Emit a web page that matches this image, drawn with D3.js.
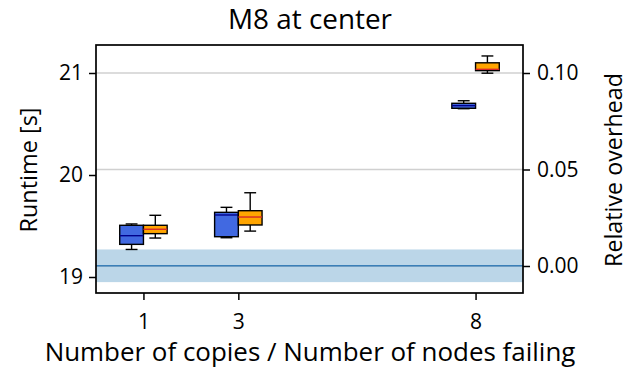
<!DOCTYPE html>
<html><head><meta charset="utf-8">
<script src="https://cdn.jsdelivr.net/npm/d3@7"></script>
<style>body{margin:0;background:#fff}svg{display:block}text{font-family:"Open Sans",sans-serif;fill:#000}</style>
</head><body><svg id="c" width="637" height="372"></svg>
<script>
const categories = [1, 3, 8];
const seriesNames = ["copies", "failing"];
// [min, q1, median, q3, max] per category
const copiesStats = [
  [19.27, 19.32, 19.405, 19.507, 19.52],
  [19.385, 19.395, 19.608, 19.634, 19.683],
  [20.65, 20.654, 20.68, 20.703, 20.728]
];
const failingStats = [
  [19.382, 19.425, 19.468, 19.507, 19.605],
  [19.45, 19.51, 19.588, 19.65, 19.826],
  [20.998, 21.023, 21.036, 21.10, 21.167]
];
const baseline = 19.11;
const baselineSpread = 0.16;
const leftTicks = [19, 20, 21];
const rightTicks = [0.00, 0.05, 0.10];
const xTicks = [1, 3, 8];

const svg = d3.select("#c");
const L = 96, R = 523, T = 45, B = 293;
const x = d3.scaleLinear().domain([0, 9]).range([L, R]);
const y = d3.scaleLinear().domain([19, 21]).range([277, 73]);
const y2 = d3.scaleLinear().domain([0, 0.10]).range([266, 73]);

function fit(sel, target) {
  const base = 20;
  sel.style("font-size", base + "px");
  const w = sel.node().getComputedTextLength();
  sel.style("font-size", (base * target / w).toFixed(2) + "px");
  return sel;
}

// gridlines (from right axis)
svg.append("g").selectAll("line").data(rightTicks).join("line")
  .attr("x1", L).attr("x2", R).attr("y1", d => y2(d)).attr("y2", d => y2(d))
  .attr("stroke", "#d0d0d0").attr("stroke-width", 1.5);

// baseline band
svg.append("rect").attr("x", L).attr("width", R - L)
  .attr("y", y(baseline + baselineSpread))
  .attr("height", y(baseline - baselineSpread) - y(baseline + baselineSpread))
  .attr("fill", "#1f77b4").attr("fill-opacity", 0.3);
svg.append("line").attr("x1", L).attr("x2", R)
  .attr("y1", y(baseline)).attr("y2", y(baseline))
  .attr("stroke", "#3a7fb8").attr("stroke-width", 1.5);

const bw = 0.5, capw = 0.25;
function drawBoxes(stats, offset, fill, medColor) {
  const g = svg.append("g");
  stats.forEach((s, i) => {
    const cx = categories[i] + offset;
    const [mn, q1, md, q3, mx] = s;
    g.append("line").attr("x1", x(cx)).attr("x2", x(cx)).attr("y1", y(q3)).attr("y2", y(mx)).attr("stroke", "#000").attr("stroke-width", 1.4);
    g.append("line").attr("x1", x(cx)).attr("x2", x(cx)).attr("y1", y(q1)).attr("y2", y(mn)).attr("stroke", "#000").attr("stroke-width", 1.4);
    [mn, mx].forEach(v => g.append("line").attr("x1", x(cx - capw / 2)).attr("x2", x(cx + capw / 2)).attr("y1", y(v)).attr("y2", y(v)).attr("stroke", "#000").attr("stroke-width", 1.4));
    g.append("rect").attr("x", x(cx - bw / 2)).attr("width", x(cx + bw / 2) - x(cx - bw / 2))
      .attr("y", y(q3)).attr("height", y(q1) - y(q3))
      .attr("fill", fill).attr("stroke", "#000").attr("stroke-width", 1.4);
    g.append("line").attr("x1", x(cx - bw / 2)).attr("x2", x(cx + bw / 2)).attr("y1", y(md)).attr("y2", y(md)).attr("stroke", medColor).attr("stroke-width", 1.4);
  });
}
drawBoxes(copiesStats, -0.25, "#4169e1", "#00008b");
drawBoxes(failingStats, 0.25, "#ffa500", "#d62728");

// frame
svg.append("rect").attr("x", L).attr("y", T).attr("width", R - L).attr("height", B - T)
  .attr("fill", "none").attr("stroke", "#000").attr("stroke-width", 1.7);

// axes
const fs = "21px";
const ax = svg.append("g").attr("transform", `translate(${L},0)`)
  .call(d3.axisLeft(y).tickValues(leftTicks).tickFormat(d3.format("d")).tickSize(7).tickPadding(6));
const ax2 = svg.append("g").attr("transform", `translate(${R},0)`)
  .call(d3.axisRight(y2).tickValues(rightTicks).tickFormat(d3.format(".2f")).tickSize(7).tickPadding(7));
const ax3 = svg.append("g").attr("transform", `translate(0,${B})`)
  .call(d3.axisBottom(x).tickValues(xTicks).tickFormat(d3.format("d")).tickSize(7).tickPadding(14));
[ax, ax2, ax3].forEach(a => {
  a.select(".domain").remove();
  a.selectAll(".tick line").attr("stroke", "#000").attr("stroke-width", 1.5);
  a.selectAll(".tick text").style("font-family", "'Open Sans', sans-serif").style("font-size", fs).attr("fill", "#000");
});

fit(svg.append("text").attr("x", 310).attr("y", 29).attr("text-anchor", "middle").text("M8 at center"), 164);
fit(svg.append("text").attr("x", 310).attr("y", 361).attr("text-anchor", "middle").text("Number of copies / Number of nodes failing"), 531);
fit(svg.append("text").attr("transform", "translate(37,170) rotate(-90)").attr("text-anchor", "middle").text("Runtime [s]"), 125);
fit(svg.append("text").attr("transform", "translate(622,170) rotate(-90)").attr("text-anchor", "middle").text("Relative overhead"), 194);
</script></body></html>
